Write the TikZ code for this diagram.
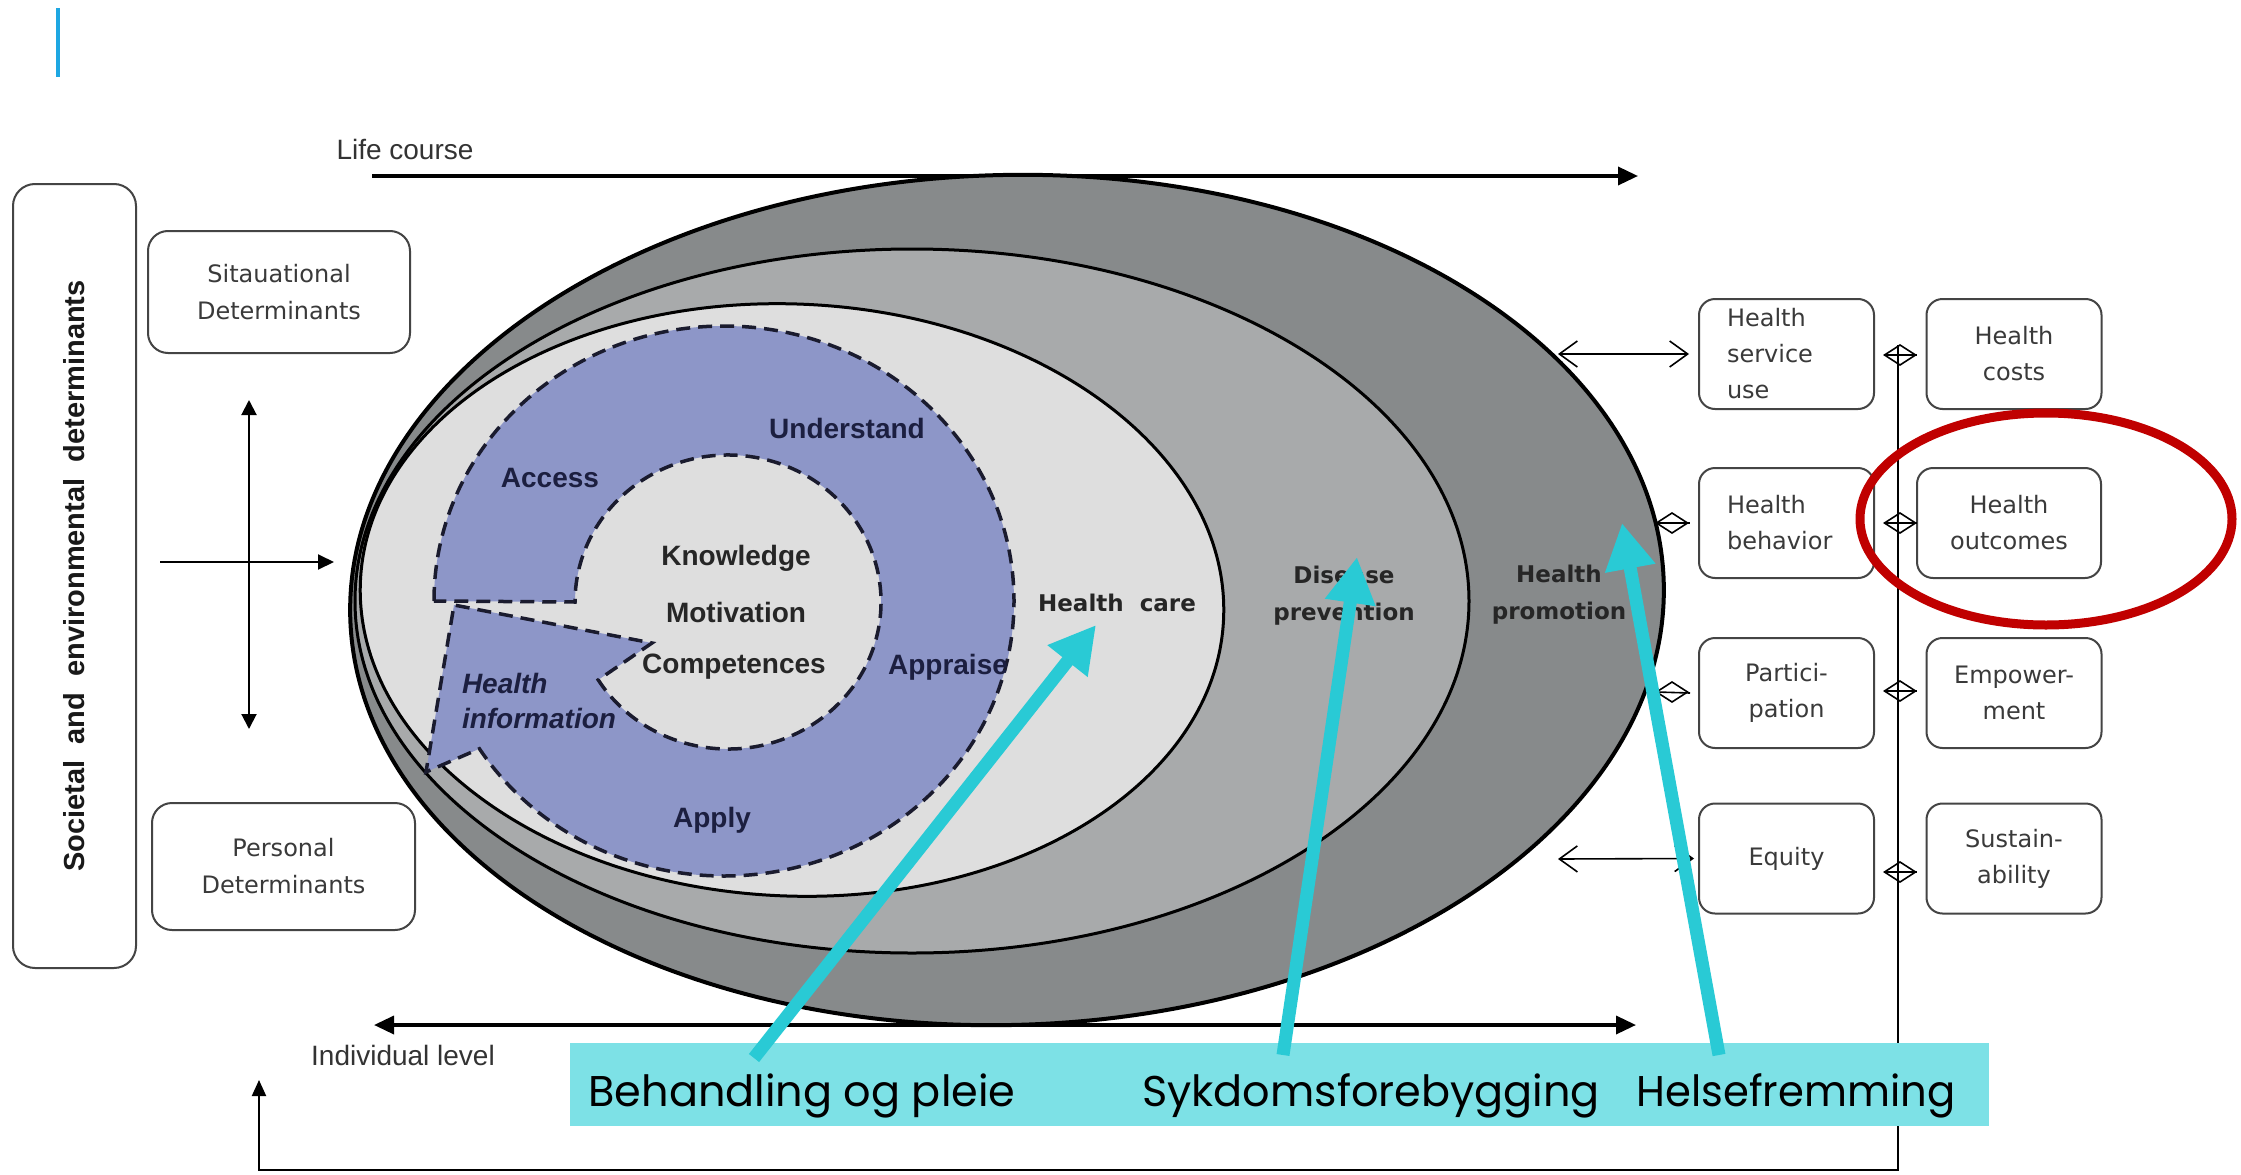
\documentclass[tikz,border=0pt]{standalone}
\usepackage{fontspec}
\setmainfont{Liberation Sans}
\newfontfamily\verdfont{DejaVu Sans}
\newfontfamily\geofont{Poppins}
\usetikzlibrary{arrows.meta,shapes.geometric}

\definecolor{promo}{HTML}{878A8B}
\definecolor{prevn}{HTML}{A8AAAB}
\definecolor{carez}{HTML}{DEDEDE}
\definecolor{ringfill}{HTML}{8D96C8}
\definecolor{ringline}{HTML}{1A1B2E}
\definecolor{navy}{HTML}{1C1F40}
\definecolor{boxline}{HTML}{444444}
\definecolor{boxtext}{HTML}{3A3A3A}
\definecolor{cyanbox}{HTML}{7DE1E6}
\definecolor{cyanarrow}{HTML}{29CAD5}
\definecolor{redring}{HTML}{C00000}
\definecolor{topbar}{HTML}{1EA7E2}

\begin{document}
\begin{tikzpicture}[x=1pt,y=-1pt,
  every node/.style={inner sep=0pt,outer sep=0pt},
  detbox/.style={draw=boxline,line width=2pt,rounded corners=20pt,align=center,
    font=\verdfont\fontsize{24}{37}\selectfont,text=boxtext},
  outbox/.style={draw=boxline,line width=2pt,rounded corners=16pt,
    minimum width=175pt,minimum height=110pt,align=center,
    font=\verdfont\fontsize{24}{36}\selectfont,text=boxtext},
  leftalign/.style={text width=119pt,align=left},
  plainlbl/.style={font=\fontsize{28}{34}\selectfont,text=black!80},
  ringlbl/.style={font=\bfseries\fontsize{28}{35}\selectfont,text=navy},
  corelbl/.style={font=\bfseries\fontsize{28}{35}\selectfont,text=black!85},
  zonelbl/.style={font=\verdfont\bfseries\fontsize{23}{37}\selectfont,text=black!85,align=center},
  bandlbl/.style={font=\geofont\fontsize{43}{50}\selectfont,text=black,anchor=base},
  bigarrow/.style={line width=3.5pt},
  thinline/.style={line width=2pt},
  barbline/.style={line width=1.6pt,
    {Straight Barb[length=18pt,width=26pt]}-{Straight Barb[length=18pt,width=26pt]}},
  diam/.style={draw,shape=diamond,minimum width=31pt,minimum height=20pt,line width=1.6pt},
  pointer/.style={draw=cyanarrow,line width=13pt,-{Triangle[length=46pt,width=48pt]}}
]
\useasboundingbox (0,0) rectangle (2241,1175);
\fill[white] (0,0) rectangle (2241,1175);

% accent bar
\draw[topbar,line width=3.5pt] (58,8) -- (58,77);

% life course axis
\node[plainlbl] (lifecourse) at (405,149) {Life course};
\coordinate (lcL) at (372,176);
\coordinate (lcR) at (1638,176);
\draw[bigarrow,-{Triangle[length=20pt,width=18pt]}] (lcL) -- (lcR);

% nested zones
\draw[fill=promo,line width=4pt,rotate around={1.5:(1007,600)}] (1007,600) ellipse [x radius=657,y radius=425];
\draw[fill=prevn,line width=3pt] (912,601) ellipse [x radius=557,y radius=352];
\draw[fill=carez,line width=3pt,rotate around={-2.5:(792,600)}] (792,600) ellipse [x radius=432,y radius=296];

% health literacy ring with arrowhead
\filldraw[fill=ringfill,draw=ringline,line width=3.5pt,dash pattern=on 14pt off 8pt,line join=miter]
  (434,601) arc[start angle=180,end angle=507.5,x radius=290,y radius=275]
  -- (426,772) -- (454,605) -- (652,643) -- (598.25,679.9)
  arc[start angle=508,end angle=180,x radius=153,y radius=147] -- cycle;

\node[ringlbl] (access) at (550,478) {Access};
\node[ringlbl] (understand) at (847,428) {Understand};
\node[ringlbl] (appraise) at (948,667) {Appraise};
\node[ringlbl] (apply) at (712,820) {Apply};
\node[ringlbl,font=\bfseries\itshape\fontsize{28}{35}\selectfont,align=left,anchor=west] (hinfo) at (462,701) {Health\\information};
\node[corelbl] (knowledge) at (736,558) {Knowledge};
\node[corelbl] (motivation) at (736,612) {Motivation};
\node[corelbl] (competences) at (734,667) {Competences};

\node[zonelbl] (care) at (1117,603) {Health\ \ care};
\node[zonelbl] (prevention) at (1344,596) {Disease\\prevention};
\node[zonelbl] (promotion) at (1559,595) {Health\\promotion};

% determinants on the left
\node[detbox,rotate=90,minimum width=784pt,minimum height=123pt,rounded corners=22pt,
  font=\bfseries\fontsize{29}{34}\selectfont,text=black!90] (societal) at (74.5,576)
  {Societal\ \ and\ \ environmental\ \ determinants};
\node[detbox,minimum width=262pt,minimum height=122pt] (situ) at (279,292) {Sitauational\\Determinants};
\node[detbox,minimum width=263pt,minimum height=127pt] (pers) at (283.5,866.5) {Personal\\Determinants};

\coordinate (vTop) at (249,400);
\coordinate (vBot) at (249,729);
\draw[thinline,{Triangle[length=15pt,width=15pt]}-{Triangle[length=15pt,width=15pt]}] (vTop) -- (vBot);
\coordinate (hL) at (160,562);
\coordinate (zoneW) at (334,562);
\draw[thinline,-{Triangle[length=16pt,width=15pt]}] (hL) -- (zoneW);

% individual / population axis
\coordinate (ilL) at (374,1025);
\coordinate (ilR) at (1636,1025);
\draw[bigarrow,{Triangle[length=20pt,width=18pt]}-{Triangle[length=20pt,width=18pt]}] (ilL) -- (ilR);
\node[plainlbl] (indiv) at (403,1055) {Individual level};

% outcome boxes
\node[outbox,leftalign] (hsu) at (1786.5,354) {Health\\service\\use};
\node[outbox,leftalign] (hbeh) at (1786.5,523) {Health\\behavior};
\node[outbox] (part) at (1786.5,693) {Partici-\\pation};
\node[outbox] (equity) at (1786.5,858.5) {Equity};
\node[outbox] (costs) at (2014,354) {Health\\costs};
\node[outbox,minimum width=184pt] (outcomes) at (2009,523) {Health\\outcomes};
\node[outbox] (empower) at (2014,693) {Empower-\\ment};
\node[outbox] (sustain) at (2014,858.5) {Sustain-\\ability};

% links between zones and outcomes
\coordinate (eR1) at (1558,354);
\draw[barbline] (eR1) -- ([xshift=-10pt]hsu.west);
\coordinate (eR4) at (1558,859);
\draw[barbline] (eR4) -- ([xshift=-5pt]equity.west);
\node[diam] (dL2) at (1672,523) {};
\draw[line width=1.6pt] (dL2.west) -- ([xshift=-9pt]hbeh.west);
\node[diam] (dL3) at (1672,692) {};
\draw[line width=1.6pt] (dL3.west) -- ([xshift=-9pt]part.west);

% feedback bus
\coordinate (busTop) at (1898,345);
\coordinate (busBot) at (1898,1170);
\coordinate (fbEnd) at (259,1080);
\draw[thinline,-{Triangle[length=16pt,width=14pt]}] (busTop) -- (busBot) -| (fbEnd);
\node[diam] (dR1) at (1900,355) {};
\draw[line width=1.6pt] (dR1.west) -- ([xshift=-10pt]dR1.west -| costs.west);
\node[diam] (dR2) at (1900,523) {};
\draw[line width=1.6pt] (dR2.west) -- (dR2.west -| outcomes.west);
\node[diam] (dR3) at (1900,691) {};
\draw[line width=1.6pt] (dR3.west) -- ([xshift=-10pt]dR3.west -| empower.west);
\node[diam] (dR4) at (1900,872) {};
\draw[line width=1.6pt] (dR4.west) -- ([xshift=-10pt]dR4.west -| sustain.west);

% highlight
\draw[redring,line width=9pt] (2046,519) ellipse [x radius=186,y radius=106];

% Norwegian labels band
\node[fill=cyanbox,minimum width=1419pt,minimum height=83pt] (band) at (1279.5,1084.5) {};
\node[bandlbl] (lblcare) at (802,1106) {Behandling og pleie};
\node[bandlbl] (lblprev) at (1371,1106) {Sykdomsforebygging};
\node[bandlbl,xscale=0.97] (lblpromo) at (1796,1106) {Helsefremming};

\coordinate (tA) at (754,1058);
\coordinate (hA) at (1096,625);
\coordinate (tB) at (1283,1055);
\coordinate (hB) at (1357,557);
\coordinate (tC) at (1719,1055);
\coordinate (hC) at (1622,523);
\draw[pointer] (tA) -- (hA);
\draw[pointer] (tB) -- (hB);
\draw[pointer] (tC) -- (hC);
\end{tikzpicture}
\end{document}
